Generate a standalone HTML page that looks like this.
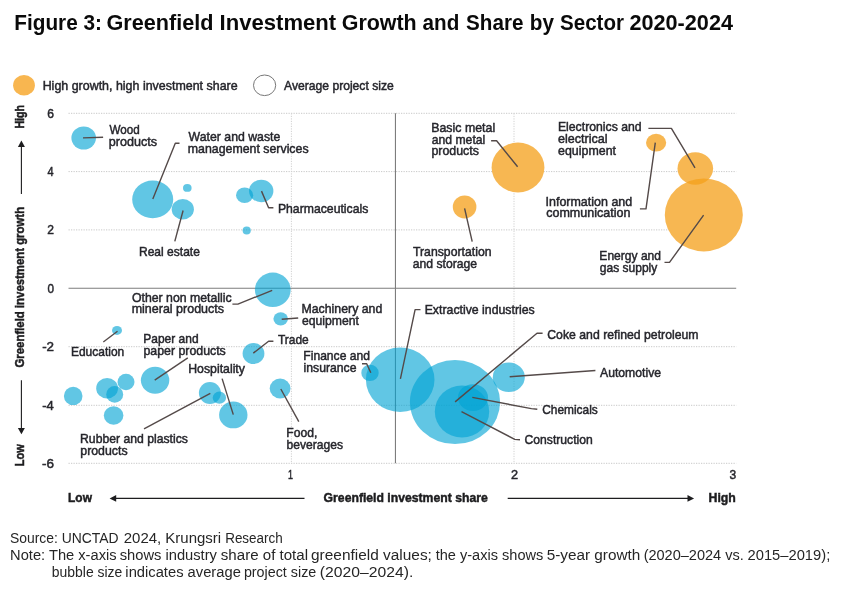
<!DOCTYPE html>
<html lang="en"><head><meta charset="utf-8">
<title>Figure 3: Greenfield Investment Growth and Share by Sector 2020-2024</title>
<style>
html,body{margin:0;padding:0;background:#fff;}
body{width:845px;height:599px;overflow:hidden;}
svg{display:block;font-family:"Liberation Sans",sans-serif;}
.t{font-size:13.6px;fill:#26262c;stroke:#26262c;stroke-width:0.5px;}
.b{font-size:13.6px;font-weight:bold;fill:#1d1d1f;stroke:#1d1d1f;stroke-width:0.5px;}
.v{font-size:13.6px;}
.f{font-size:14.7px;fill:#262626;}
.ttl{font-size:22.9px;font-weight:bold;fill:#0a0a0a;}
.ld{fill:none;stroke:#544a49;stroke-width:1.4;stroke-linejoin:round;stroke-linecap:butt;}
.g{stroke:#c9c9c9;stroke-width:1;stroke-dasharray:1.25 1.25;fill:none;}
.gv{stroke:#d2d2d2;}
.ax{stroke:#7d7d7d;stroke-width:1.1;fill:none;}
.bl{fill:#00a3d3;fill-opacity:0.62;}
.or{fill:#f5a01c;fill-opacity:0.76;}
.ar{stroke:#1d1d1f;stroke-width:1.1;fill:none;}
</style></head><body>
<svg width="845" height="599" viewBox="0 0 845 599" role="img" aria-label="Bubble chart of greenfield investment growth and share by sector">
<rect width="845" height="599" fill="#fff"/>
<text class="ttl" x="14.31" y="30.0" textLength="87.59" lengthAdjust="spacingAndGlyphs">Figure 3:</text>
<text class="ttl" x="106.52" y="30.0" textLength="106.93" lengthAdjust="spacingAndGlyphs">Greenfield</text>
<text class="ttl" x="219.58" y="30.0" textLength="116.58" lengthAdjust="spacingAndGlyphs">Investment</text>
<text class="ttl" x="341.72" y="30.0" textLength="74.99" lengthAdjust="spacingAndGlyphs">Growth</text>
<text class="ttl" x="422.60" y="30.0" textLength="36.68" lengthAdjust="spacingAndGlyphs">and</text>
<text class="ttl" x="466.09" y="30.0" textLength="57.37" lengthAdjust="spacingAndGlyphs">Share</text>
<text class="ttl" x="529.75" y="30.0" textLength="24.14" lengthAdjust="spacingAndGlyphs">by</text>
<text class="ttl" x="560.07" y="30.0" textLength="63.91" lengthAdjust="spacingAndGlyphs">Sector</text>
<text class="ttl" x="629.46" y="30.0" textLength="103.54" lengthAdjust="spacingAndGlyphs">2020-2024</text>
<ellipse cx="24" cy="85.2" rx="10.9" ry="10.3" fill="#f8b650"/>
<text class="t" x="42.64" y="89.8" textLength="195.05" lengthAdjust="spacingAndGlyphs">High growth, high investment share</text>
<ellipse cx="264.6" cy="85.3" rx="11.1" ry="10.3" fill="#fff" stroke="#777" stroke-width="1"/>
<text class="t" x="284.00" y="89.8" textLength="109.79" lengthAdjust="spacingAndGlyphs">Average project size</text>
<line class="g" x1="68.5" y1="113.3" x2="736.2" y2="113.3"/>
<line class="g" x1="68.5" y1="171.6" x2="736.2" y2="171.6"/>
<line class="g" x1="68.5" y1="229.9" x2="736.2" y2="229.9"/>
<line class="g" x1="68.5" y1="346.7" x2="736.2" y2="346.7"/>
<line class="g" x1="68.5" y1="405.3" x2="736.2" y2="405.3"/>
<line class="g" x1="68.5" y1="463.3" x2="736.2" y2="463.3"/>
<line class="g gv" x1="291.4" y1="113.3" x2="291.4" y2="463.3"/>
<line class="g gv" x1="514.0" y1="113.3" x2="514.0" y2="463.3"/>
<line class="ax" x1="68.5" y1="288.3" x2="736.2" y2="288.3"/>
<line class="ax" x1="395.45" y1="113.3" x2="395.45" y2="463.3"/>
<text class="t" x="47.32" y="117.7" textLength="6.74" lengthAdjust="spacingAndGlyphs">6</text>
<text class="t" x="47.59" y="176.0" textLength="6.08" lengthAdjust="spacingAndGlyphs">4</text>
<text class="t" x="47.24" y="234.3" textLength="6.71" lengthAdjust="spacingAndGlyphs">2</text>
<text class="t" x="47.38" y="292.7" textLength="6.51" lengthAdjust="spacingAndGlyphs">0</text>
<text class="t" x="42.13" y="351.1" textLength="11.93" lengthAdjust="spacingAndGlyphs">-2</text>
<text class="t" x="42.16" y="409.7" textLength="11.57" lengthAdjust="spacingAndGlyphs">-4</text>
<text class="t" x="42.11" y="467.7" textLength="12.02" lengthAdjust="spacingAndGlyphs">-6</text>
<text class="t" x="287.97" y="479.1" textLength="4.99" lengthAdjust="spacingAndGlyphs">1</text>
<text class="t" x="511.07" y="479.1" textLength="7.07" lengthAdjust="spacingAndGlyphs">2</text>
<text class="t" x="729.45" y="479.1" textLength="6.68" lengthAdjust="spacingAndGlyphs">3</text>
<text class="b" x="68.07" y="501.8" textLength="23.88" lengthAdjust="spacingAndGlyphs">Low</text>
<text class="b" x="323.62" y="501.8" textLength="164.11" lengthAdjust="spacingAndGlyphs">Greenfield investment share</text>
<text class="b" x="708.50" y="501.8" textLength="27.34" lengthAdjust="spacingAndGlyphs">High</text>
<line class="ar" x1="114" y1="498.4" x2="304.5" y2="498.4"/>
<path d="M109.6 498.4 L116.2 495 L116.2 501.8 Z" fill="#1d1d1f"/>
<line class="ar" x1="507.7" y1="498.4" x2="689" y2="498.4"/>
<path d="M694.1 498.4 L687.5 495 L687.5 501.8 Z" fill="#1d1d1f"/>
<text class="b v" transform="translate(24.0 128.6) rotate(-90)" textLength="23.6" lengthAdjust="spacingAndGlyphs">High</text>
<text class="b v" transform="translate(24.0 367.5) rotate(-90)" textLength="160.6" lengthAdjust="spacingAndGlyphs">Greenfield investment growth</text>
<text class="b v" transform="translate(24.0 466.3) rotate(-90)" textLength="22" lengthAdjust="spacingAndGlyphs">Low</text>
<line class="ar" x1="21.4" y1="145" x2="21.4" y2="194"/>
<path d="M21.4 140.6 L17.9 147 L24.9 147 Z" fill="#1d1d1f"/>
<line class="ar" x1="21.4" y1="380.2" x2="21.4" y2="430"/>
<path d="M21.4 434.3 L17.9 427.9 L24.9 427.9 Z" fill="#1d1d1f"/>
<ellipse class="bl" cx="83.7" cy="138.0" rx="12.3" ry="11.5"/>
<ellipse class="bl" cx="152.7" cy="199.4" rx="20.5" ry="18.9"/>
<ellipse class="bl" cx="187.3" cy="187.9" rx="4.3" ry="3.9"/>
<ellipse class="bl" cx="182.8" cy="209.2" rx="11.1" ry="10.3"/>
<ellipse class="bl" cx="244.6" cy="195.3" rx="8.6" ry="7.7"/>
<ellipse class="bl" cx="261.2" cy="191.0" rx="12.2" ry="11.2"/>
<ellipse class="bl" cx="246.7" cy="230.5" rx="4.1" ry="3.9"/>
<ellipse class="bl" cx="272.8" cy="289.8" rx="17.9" ry="17.2"/>
<ellipse class="bl" cx="280.7" cy="318.8" rx="7.3" ry="6.6"/>
<ellipse class="bl" cx="117.0" cy="330.4" rx="5.0" ry="4.5"/>
<ellipse class="bl" cx="253.5" cy="353.5" rx="10.9" ry="10.6"/>
<ellipse class="bl" cx="73.2" cy="395.9" rx="9.3" ry="9.2"/>
<ellipse class="bl" cx="107.1" cy="388.2" rx="10.9" ry="10.3"/>
<ellipse class="bl" cx="114.7" cy="394.4" rx="8.5" ry="8.3"/>
<ellipse class="bl" cx="126.0" cy="382.0" rx="8.5" ry="8.2"/>
<ellipse class="bl" cx="113.6" cy="415.5" rx="9.8" ry="9.2"/>
<ellipse class="bl" cx="155.1" cy="380.2" rx="14.2" ry="13.5"/>
<ellipse class="bl" cx="209.9" cy="393.0" rx="11.0" ry="10.9"/>
<ellipse class="bl" cx="219.4" cy="397.7" rx="6.7" ry="6.1"/>
<ellipse class="bl" cx="233.3" cy="414.9" rx="14.2" ry="13.4"/>
<ellipse class="bl" cx="280.1" cy="388.5" rx="10.4" ry="10.0"/>
<ellipse class="bl" cx="370.0" cy="372.9" rx="8.7" ry="8.2"/>
<ellipse class="bl" cx="400.2" cy="379.7" rx="34.3" ry="32.2"/>
<ellipse class="bl" cx="455.0" cy="402.1" rx="45.1" ry="42.0"/>
<ellipse class="bl" cx="508.8" cy="377.3" rx="16.0" ry="14.8"/>
<ellipse class="bl" cx="462.0" cy="411.5" rx="27.2" ry="26.0"/>
<ellipse class="bl" cx="473.0" cy="397.6" rx="15.0" ry="13.4"/>
<ellipse fill="#fff" cx="518.0" cy="167.5" rx="26.0" ry="24.5"/>
<ellipse fill="#fff" cx="464.6" cy="206.9" rx="11.4" ry="11.1"/>
<ellipse fill="#fff" cx="656.1" cy="142.7" rx="9.7" ry="8.5"/>
<ellipse fill="#fff" cx="695.3" cy="168.5" rx="17.4" ry="15.9"/>
<ellipse fill="#fff" cx="703.8" cy="214.9" rx="38.6" ry="36.1"/>
<ellipse class="or" cx="518.0" cy="167.5" rx="26.4" ry="24.9"/>
<ellipse class="or" cx="464.6" cy="206.9" rx="11.8" ry="11.5"/>
<ellipse class="or" cx="656.1" cy="142.7" rx="10.1" ry="8.9"/>
<ellipse class="or" cx="695.3" cy="168.5" rx="17.8" ry="16.3"/>
<ellipse class="or" cx="703.8" cy="214.9" rx="39.0" ry="36.5"/>
<polyline class="ld" points="83.0,137.9 103.1,137.2"/>
<polyline class="ld" points="152.8,198.9 175.3,143.3 179.5,143.3"/>
<polyline class="ld" points="183.1,210.5 174.8,241.4"/>
<polyline class="ld" points="261.5,191.1 268.6,207.7 273.4,207.7"/>
<polyline class="ld" points="272.2,290.4 237.9,304.1 232.4,304.1"/>
<polyline class="ld" points="281.7,319.2 298.2,318.0"/>
<polyline class="ld" points="117.5,331.3 103.3,342.0"/>
<polyline class="ld" points="253.3,353.1 268.6,341.2 273.4,341.2"/>
<polyline class="ld" points="154.7,380.2 187.8,357.8"/>
<polyline class="ld" points="233.3,414.6 222.1,378.6"/>
<polyline class="ld" points="210.3,393.3 144.0,428.8"/>
<polyline class="ld" points="280.8,389.0 298.8,421.7"/>
<polyline class="ld" points="362.0,363.7 366.7,363.7 370.8,372.7"/>
<polyline class="ld" points="400.4,378.8 415.1,309.6 420.5,309.6"/>
<polyline class="ld" points="455.1,401.9 537.0,333.2 542.6,333.2"/>
<polyline class="ld" points="472.3,397.4 531.4,408.6 537.3,409.2"/>
<polyline class="ld" points="461.5,411.7 514.8,439.4 520.0,439.8"/>
<polyline class="ld" points="509.7,376.8 595.4,370.5"/>
<polyline class="ld" points="517.6,166.7 496.6,140.7 491.1,140.7"/>
<polyline class="ld" points="464.6,208.4 472.2,241.6"/>
<polyline class="ld" points="648.4,128.4 671.4,128.4 695.0,167.9"/>
<polyline class="ld" points="655.3,142.6 646.0,208.9 639.9,208.9"/>
<polyline class="ld" points="703.6,215.1 669.5,262.4 664.5,262.4"/>
<text class="t" x="109.41" y="134.4" textLength="30.23" lengthAdjust="spacingAndGlyphs">Wood</text>
<text class="t" x="108.71" y="146.1" textLength="48.29" lengthAdjust="spacingAndGlyphs">products</text>
<text class="t" x="188.60" y="141.3" textLength="91.68" lengthAdjust="spacingAndGlyphs">Water and waste</text>
<text class="t" x="187.78" y="152.6" textLength="120.83" lengthAdjust="spacingAndGlyphs">management services</text>
<text class="t" x="277.92" y="212.9" textLength="90.43" lengthAdjust="spacingAndGlyphs">Pharmaceuticals</text>
<text class="t" x="138.96" y="256.0" textLength="60.93" lengthAdjust="spacingAndGlyphs">Real estate</text>
<text class="t" x="131.90" y="301.7" textLength="99.83" lengthAdjust="spacingAndGlyphs">Other non metallic</text>
<text class="t" x="131.66" y="313.3" textLength="92.38" lengthAdjust="spacingAndGlyphs">mineral products</text>
<text class="t" x="301.52" y="313.3" textLength="80.74" lengthAdjust="spacingAndGlyphs">Machinery and</text>
<text class="t" x="301.93" y="325.2" textLength="56.95" lengthAdjust="spacingAndGlyphs">equipment</text>
<text class="t" x="70.88" y="356.1" textLength="53.37" lengthAdjust="spacingAndGlyphs">Education</text>
<text class="t" x="143.29" y="342.8" textLength="55.32" lengthAdjust="spacingAndGlyphs">Paper and</text>
<text class="t" x="143.45" y="355.2" textLength="82.33" lengthAdjust="spacingAndGlyphs">paper products</text>
<text class="t" x="277.88" y="344.4" textLength="30.82" lengthAdjust="spacingAndGlyphs">Trade</text>
<text class="t" x="303.33" y="360.2" textLength="66.61" lengthAdjust="spacingAndGlyphs">Finance and</text>
<text class="t" x="303.58" y="371.8" textLength="52.95" lengthAdjust="spacingAndGlyphs">insurance</text>
<text class="t" x="188.22" y="373.3" textLength="56.73" lengthAdjust="spacingAndGlyphs">Hospitality</text>
<text class="t" x="80.04" y="443.4" textLength="107.89" lengthAdjust="spacingAndGlyphs">Rubber and plastics</text>
<text class="t" x="80.30" y="455.0" textLength="47.24" lengthAdjust="spacingAndGlyphs">products</text>
<text class="t" x="286.26" y="437.0" textLength="31.06" lengthAdjust="spacingAndGlyphs">Food,</text>
<text class="t" x="286.47" y="449.1" textLength="56.49" lengthAdjust="spacingAndGlyphs">beverages</text>
<text class="t" x="424.67" y="314.4" textLength="110.12" lengthAdjust="spacingAndGlyphs">Extractive industries</text>
<text class="t" x="547.28" y="338.6" textLength="151.29" lengthAdjust="spacingAndGlyphs">Coke and refined petroleum</text>
<text class="t" x="600.00" y="377.0" textLength="61.05" lengthAdjust="spacingAndGlyphs">Automotive</text>
<text class="t" x="542.19" y="413.8" textLength="55.61" lengthAdjust="spacingAndGlyphs">Chemicals</text>
<text class="t" x="524.55" y="444.1" textLength="68.24" lengthAdjust="spacingAndGlyphs">Construction</text>
<text class="t" x="431.22" y="132.0" textLength="63.93" lengthAdjust="spacingAndGlyphs">Basic metal</text>
<text class="t" x="431.76" y="143.6" textLength="53.50" lengthAdjust="spacingAndGlyphs">and metal</text>
<text class="t" x="431.43" y="155.2" textLength="47.46" lengthAdjust="spacingAndGlyphs">products</text>
<text class="t" x="413.00" y="256.4" textLength="78.56" lengthAdjust="spacingAndGlyphs">Transportation</text>
<text class="t" x="412.77" y="268.2" textLength="64.40" lengthAdjust="spacingAndGlyphs">and storage</text>
<text class="t" x="557.94" y="131.2" textLength="83.63" lengthAdjust="spacingAndGlyphs">Electronics and</text>
<text class="t" x="558.07" y="143.2" textLength="49.55" lengthAdjust="spacingAndGlyphs">electrical</text>
<text class="t" x="558.09" y="154.8" textLength="57.92" lengthAdjust="spacingAndGlyphs">equipment</text>
<text class="t" x="545.51" y="205.7" textLength="86.73" lengthAdjust="spacingAndGlyphs">Information and</text>
<text class="t" x="546.17" y="217.4" textLength="84.31" lengthAdjust="spacingAndGlyphs">communication</text>
<text class="t" x="599.35" y="259.7" textLength="61.66" lengthAdjust="spacingAndGlyphs">Energy and</text>
<text class="t" x="599.78" y="271.6" textLength="57.51" lengthAdjust="spacingAndGlyphs">gas supply</text>
<text class="f" x="9.95" y="542.7" textLength="108.65" lengthAdjust="spacingAndGlyphs">Source: UNCTAD</text>
<text class="f" x="123.74" y="542.7" textLength="97.40" lengthAdjust="spacingAndGlyphs">2024, Krungsri</text>
<text class="f" x="225.18" y="542.7" textLength="57.55" lengthAdjust="spacingAndGlyphs">Research</text>
<text class="f" x="10.07" y="559.9" textLength="106.51" lengthAdjust="spacingAndGlyphs">Note: The x-axis</text>
<text class="f" x="119.68" y="559.9" textLength="97.28" lengthAdjust="spacingAndGlyphs">shows industry</text>
<text class="f" x="220.84" y="559.9" textLength="87.21" lengthAdjust="spacingAndGlyphs">share of total</text>
<text class="f" x="311.02" y="559.9" textLength="120.88" lengthAdjust="spacingAndGlyphs">greenfield values;</text>
<text class="f" x="435.65" y="559.9" textLength="107.66" lengthAdjust="spacingAndGlyphs">the y-axis shows</text>
<text class="f" x="546.66" y="559.9" textLength="93.66" lengthAdjust="spacingAndGlyphs">5-year growth</text>
<text class="f" x="643.63" y="559.9" textLength="100.15" lengthAdjust="spacingAndGlyphs">(2020–2024 vs.</text>
<text class="f" x="747.51" y="559.9" textLength="82.78" lengthAdjust="spacingAndGlyphs">2015–2019);</text>
<text class="f" x="51.79" y="577.3" textLength="70.52" lengthAdjust="spacingAndGlyphs">bubble size</text>
<text class="f" x="125.36" y="577.3" textLength="115.51" lengthAdjust="spacingAndGlyphs">indicates average</text>
<text class="f" x="243.89" y="577.3" textLength="72.40" lengthAdjust="spacingAndGlyphs">project size</text>
<text class="f" x="319.83" y="577.3" textLength="93.44" lengthAdjust="spacingAndGlyphs">(2020–2024).</text>
</svg></body></html>
